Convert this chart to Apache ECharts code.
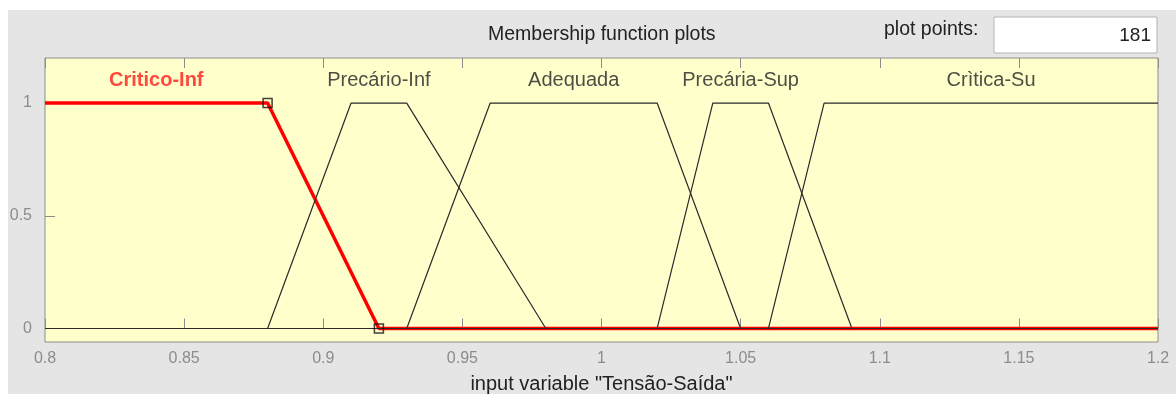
<!DOCTYPE html>
<html>
<head>
<meta charset="utf-8">
<script src="https://cdn.jsdelivr.net/npm/echarts@6/dist/echarts.min.js"></script>
<style>
  html, body { margin: 0; padding: 0; background: #fff; }
  #chart { width: 1176px; height: 394px; }
</style>
</head>
<body>
<div id="chart"></div>
<script>
// membership functions of input variable "Tensão-Saída"
const mfNames = ['Critico-Inf', 'Precário-Inf', 'Adequada', 'Precária-Sup', 'Crìtica-Su']
const mfX = [
  [0.8, 0.88, 0.92, 1.2],
  [0.8, 0.88, 0.91, 0.93, 0.98, 1.2],
  [0.8, 0.93, 0.96, 1.02, 1.05, 1.2],
  [0.8, 1.02, 1.04, 1.06, 1.09, 1.2],
  [0.8, 1.06, 1.08, 1.2],
]
const mfY = [
  [1, 1, 0, 0],
  [0, 0, 1, 1, 0, 0],
  [0, 0, 1, 1, 0, 0],
  [0, 0, 1, 1, 0, 0],
  [0, 0, 1, 1],
]
const selected = 0
const xTicks = [0.8, 0.85, 0.9, 0.95, 1, 1.05, 1.1, 1.15, 1.2]
const yTicks = [0, 0.5, 1]
const plotPoints = '181'

const font = '"Liberation Sans", Arial, sans-serif'
const chart = echarts.init(document.getElementById('chart'))

// label sits over the middle of each plateau
function labelPos(i) {
  const xs = mfX[i].filter((x, k) => mfY[i][k] === 1)
  return [(Math.min(...xs) + Math.max(...xs)) / 2, 1.1]
}

const series = []
mfNames.forEach((name, i) => {
  const isSel = i === selected
  series.push({
    type: 'line',
    name,
    data: mfX[i].map((x, k) => [x, mfY[i][k]]),
    symbol: 'none',
    z: isSel ? 2 : 3,
    lineStyle: { color: isSel ? '#ff0000' : '#2a2a2a', width: isSel ? 3.5 : 1.2 },
    silent: true,
  })
  series.push({
    type: 'scatter',
    data: [labelPos(i)],
    symbolSize: 0,
    z: 5,
    label: {
      show: true,
      position: 'inside',
      formatter: name,
      fontFamily: font,
      fontSize: 20,
      fontWeight: isSel ? 'bold' : 'normal',
      color: isSel ? '#ff1a1a' : '#222',
    },
  })
})

// corner markers of the selected function
const sx = mfX[selected], sy = mfY[selected]
const corners = []
for (let k = 1; k < sx.length - 1; k++) {
  if (sy[k] !== sy[k - 1] || sy[k] !== sy[k + 1]) corners.push([sx[k], sy[k]])
}
series.push({
  type: 'scatter',
  data: corners,
  symbol: 'rect',
  symbolSize: 9,
  z: 6,
  itemStyle: { color: 'rgba(0,0,0,0)', borderColor: '#111', borderWidth: 1.5 },
})

chart.setOption({
  animation: false,
  backgroundColor: '#fff',
  graphic: [
    { type: 'rect', z: -10, shape: { x: 8, y: 10, width: 1168, height: 384 }, style: { fill: '#e5e5e5' } },
    { type: 'text', left: 488, top: 25, style: { text: 'Membership function plots', font: '19.5px ' + font, fill: '#222' } },
    { type: 'text', left: 884, top: 20, style: { text: 'plot points:', font: '19.5px ' + font, fill: '#222' } },
    { type: 'rect', shape: { x: 994, y: 17, width: 163, height: 36 }, style: { fill: '#fff', stroke: '#b4b4b4', lineWidth: 1 } },
    { type: 'text', right: 25, top: 26, style: { text: plotPoints, font: '19px ' + font, fill: '#222', align: 'right' } },
  ],
  grid: {
    left: 45, right: 18, top: 58, bottom: 52, outerBoundsMode: 'none',
    show: true, backgroundColor: '#ffffcc', borderColor: '#8c8c8c', borderWidth: 1,
  },
  xAxis: [
    {
      type: 'value', min: 0.8, max: 1.2, interval: 0.05,
      name: 'input variable "Tensão-Saída"', nameLocation: 'middle', nameGap: 32,
      nameTextStyle: { color: '#222', fontFamily: font, fontSize: 20 },
      axisLine: { show: false },
      axisTick: { inside: true, length: 10, lineStyle: { color: '#8c8c8c' } },
      axisLabel: {
        margin: 9, color: '#8c8c8c', fontFamily: font, fontSize: 16,
        customValues: xTicks, formatter: v => String(+v.toFixed(2)),
      },
      splitLine: { show: false },
    },
    {
      type: 'value', min: 0.8, max: 1.2, interval: 0.05, position: 'top',
      axisLine: { show: false },
      axisTick: { inside: true, length: 10, lineStyle: { color: '#8c8c8c' } },
      axisLabel: { show: false },
      splitLine: { show: false },
    },
  ],
  yAxis: {
    type: 'value', min: -0.06, max: 1.2,
    axisLine: { show: false },
    axisTick: { show: true, inside: true, length: 10, customValues: yTicks, lineStyle: { color: '#8c8c8c' } },
    axisLabel: { margin: 13, color: '#8c8c8c', fontFamily: font, fontSize: 16, customValues: yTicks },
    splitLine: { show: false },
  },
  series,
})
</script>
</body>
</html>
